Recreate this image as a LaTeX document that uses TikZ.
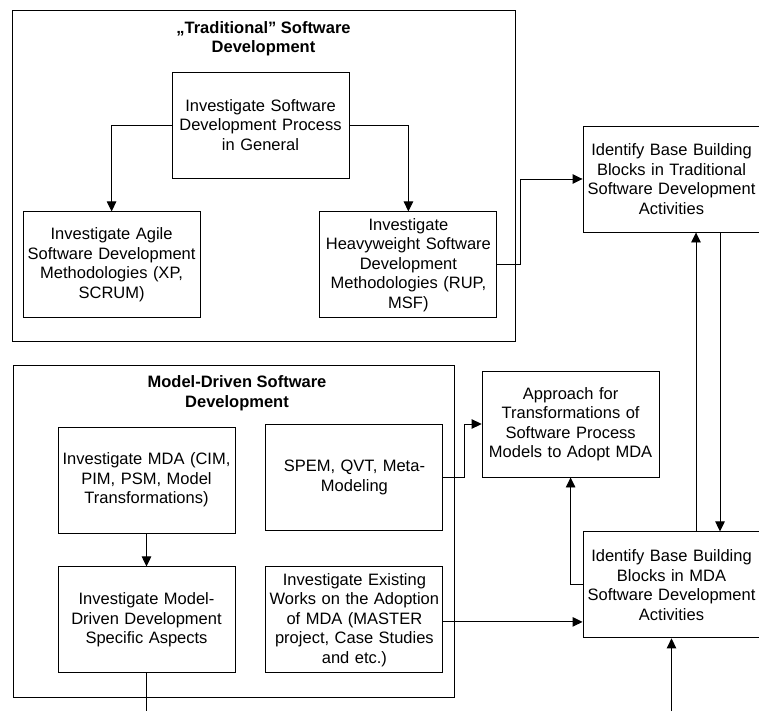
\documentclass[tikz,border=0pt]{standalone}
\usepackage{fontspec}
\setmainfont{Liberation Sans}
\usetikzlibrary{arrows.meta,positioning}

\begin{document}
\begin{tikzpicture}[
  x=1pt, y=-1pt,
  box/.style={rectangle, draw, line width=0.9pt, text width=172pt, align=center,
    inner xsep=2.5pt, inner ysep=0pt, minimum height=106pt,
    font=\fontsize{16.5}{19.5}\selectfont},
  frame/.style={rectangle, draw, line width=0.9pt, inner sep=0pt},
  title/.style={align=center, inner sep=0pt,
    font=\fontsize{16.5}{19.5}\selectfont\bfseries},
  arr/.style={line width=0.9pt, -{Triangle[length=10pt,width=9.5pt]}},
  wire/.style={line width=0.9pt}
]
\useasboundingbox (0,0) rectangle (759,711);
\coordinate (bottom) at (0,711);

% Traditional part
\node[frame, minimum width=503pt, minimum height=331pt] (tradframe) at (263.5,175.5) {};
\node[title] (tradtitle) at (263.5,38.5) {„Traditional” Software\\Development};
\node[box] (proc) at (260.5,125) {Investigate Software\\Development Process\\in General};
\node[box, below left=33pt and -29pt of proc] (agile) {Investigate Agile\\Software Development\\Methodologies (XP,\\SCRUM)};
\node[box, below right=33pt and -30pt of proc] (heavy) {Investigate\\Heavyweight Software\\Development\\Methodologies (RUP,\\MSF)};

\draw[arr] (proc.west) -| (agile.north);
\draw[arr] (proc.east) -| (heavy.north);

% Building blocks
\node[box] (tradid) at (671.5,179) {Identify Base Building\\Blocks in Traditional\\Software Development\\Activities};
\node[box, below=299pt of tradid] (mdaid) {Identify Base Building\\Blocks in MDA\\Software Development\\Activities};
\node[box, above left=54pt and -77pt of mdaid] (approach) {Approach for\\Transformations of\\Software Process\\Models to Adopt MDA};

\draw[arr] (heavy.east) -- ++(23,0) |- (tradid.west);
\draw[arr] ([xshift=24.5pt]mdaid.north) -- ([xshift=24.5pt]tradid.south);
\draw[arr] ([xshift=48.5pt]tradid.south) -- ([xshift=48.5pt]mdaid.north);
\draw[arr] (mdaid.west) -| (approach.south);

% Model-driven part
\node[frame, minimum width=441pt, minimum height=332pt] (mdframe) at (233.5,531) {};
\node[title] (mdtitle) at (237,393) {Model-Driven Software\\Development};
\node[box] (mda) at (146.5,480) {Investigate MDA (CIM,\\PIM, PSM, Model\\Transformations)};
\node[box, right=30pt of mda, yshift=2.5pt] (spem) {SPEM, QVT, Meta-\\Modeling};
\node[box, below=33pt of mda] (mdasp) {Investigate Model-\\Driven Development\\Specific Aspects};
\node[box, right=30pt of mdasp] (exist) {Investigate Existing\\Works on the Adoption\\of MDA (MASTER\\project, Case Studies\\and etc.)};

\draw[arr] (mda) -- (mdasp);
\draw[arr] (spem.east) -- ++(21,0) |- (approach.west);
\draw[arr] ([yshift=-2pt]exist.east) -- ([yshift=-2pt]exist.east -| mdaid.west);
\draw[wire] (mdasp.south) -- (mdasp.south |- bottom);
\draw[arr] (mdaid.south |- bottom) -- (mdaid.south);

\end{tikzpicture}
\end{document}
